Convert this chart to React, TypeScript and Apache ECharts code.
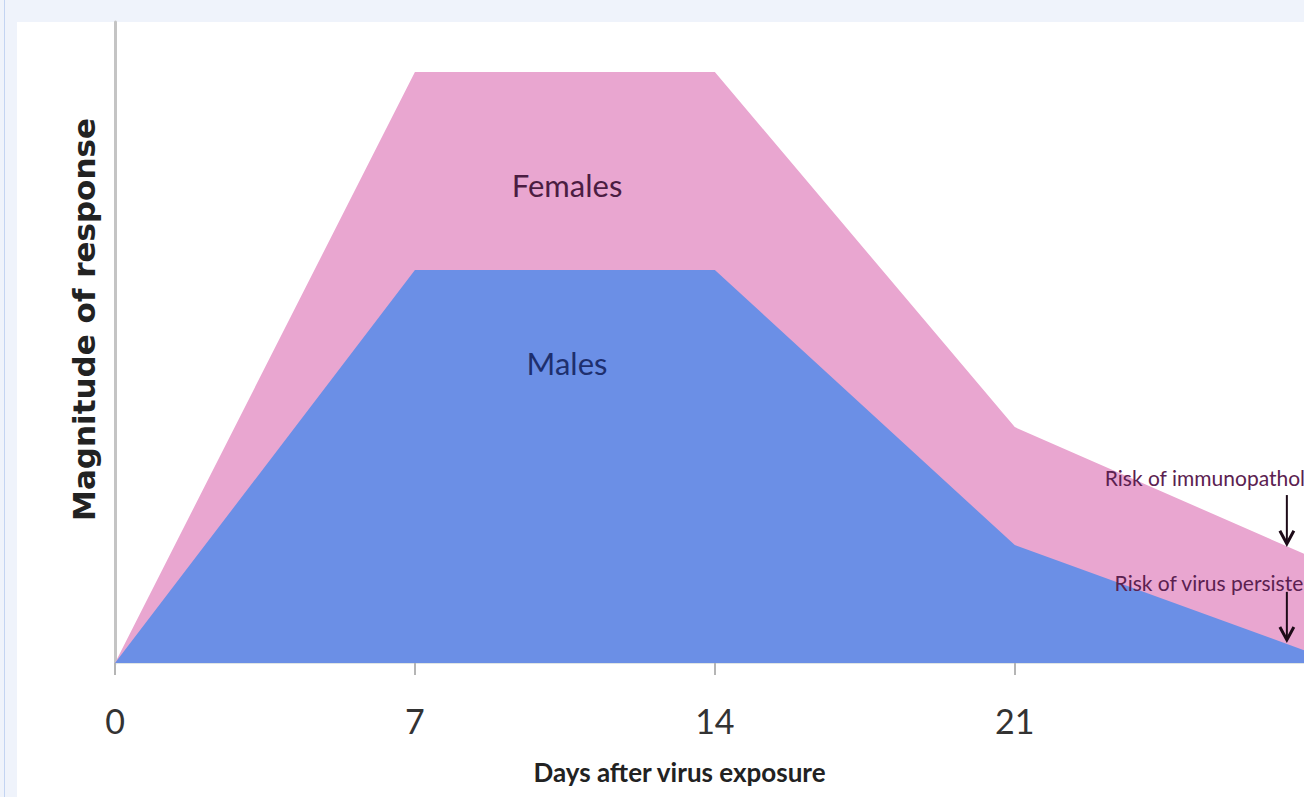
import React, { useEffect, useRef } from "react";
import * as echarts from "echarts";

// Days after exposure and response magnitude (arbitrary units)
const days = [0, 7, 14, 21, 28];
const females = [0, 92.2, 92.2, 36.8, 16.3];
const males = [0, 61.3, 61.3, 18.4, 1.4];
const xTicks = [0, 7, 14, 21];
const visibleDays = 27.75; // the reference image is cropped just before day 28

const femaleLabel = { text: "Females", day: 10.55, value: 74.6 };
const maleLabel = { text: "Males", day: 10.55, value: 46.8 };
const riskImmuno = { text: "Risk of immunopathology", day: 23.1, value: 28.9, arrowDay: 27.35, arrowTop: 26.2, arrowTip: 18.6 };
const riskVirus = { text: "Risk of virus persistence", day: 23.33, value: 12.6, arrowDay: 27.35, arrowTop: 11.1, arrowTip: 3.6 };

export default function App() {
  const ref = useRef<HTMLDivElement>(null);
  useEffect(() => {
    if (!ref.current) return;
    const chart = echarts.init(ref.current, null, { renderer: "svg" });
    const femData = days.map((d, i) => [d, females[i]]);
    const malData = days.map((d, i) => [d, males[i]]);
    chart.setOption({
      animation: false,
      grid: { left: 115, top: 22, right: 0, bottom: 134 },
      xAxis: {
        type: "value",
        min: 0,
        max: visibleDays,
        interval: 7,
        name: "Days after virus exposure",
        nameLocation: "middle",
        nameGap: 96,
        nameTextStyle: { fontFamily: "Lato", fontWeight: "bold", fontSize: 26, color: "#222", padding: [0, 60, 0, 0] },
        axisLine: { show: true, lineStyle: { color: "#dfe5e5", width: 1 } },
        axisTick: { show: true, length: 12, lineStyle: { color: "#b5b5b5", width: 2 } },
        splitLine: { show: false },
        axisLabel: {
          margin: 40,
          fontFamily: "Lato",
          fontSize: 34,
          color: "#333",
          showMaxLabel: false,
          formatter: (v: number) => (xTicks.includes(v) ? String(v) : ""),
        },
      },
      yAxis: {
        type: "value",
        min: 0,
        max: 100,
        name: "Magnitude of response",
        nameLocation: "middle",
        nameGap: 16,
        nameTextStyle: { fontFamily: "DejaVu Sans", fontWeight: "bold", fontSize: 31, color: "#222", padding: [0, 0, 0, 46] },
        axisLine: { show: true, lineStyle: { color: "#c4c4c4", width: 3 } },
        axisTick: { show: false },
        axisLabel: { show: false },
        splitLine: { show: false },
      },
      series: [
        {
          name: "Females",
          type: "line",
          data: femData,
          symbol: "none",
          lineStyle: { width: 0 },
          areaStyle: { color: "#e9a6d0", opacity: 1 },
          z: 2,
        },
        {
          name: "Males",
          type: "line",
          data: malData,
          symbol: "none",
          lineStyle: { width: 0 },
          areaStyle: { color: "#6b8fe6", opacity: 1 },
          z: 3,
        },
      ],
    });
    const px = (d: number, v: number) => chart.convertToPixel({ gridIndex: 0 }, [d, v]) as number[];
    const fp = px(femaleLabel.day, femaleLabel.value);
    const mp = px(maleLabel.day, maleLabel.value);
    const r1 = px(riskImmuno.day, riskImmuno.value);
    const r2 = px(riskVirus.day, riskVirus.value);
    const arrow = (r: typeof riskImmuno) => {
      const top = px(r.arrowDay, r.arrowTop);
      const tip = px(r.arrowDay, r.arrowTip);
      return [
        { type: "line", z: 10, shape: { x1: top[0], y1: top[1], x2: tip[0], y2: tip[1] - 2 }, style: { stroke: "#1d0b18", lineWidth: 2 } },
        {
          type: "polyline",
          z: 10,
          shape: { points: [[tip[0] - 7, tip[1] - 13], [tip[0], tip[1]], [tip[0] + 7, tip[1] - 13]] },
          style: { stroke: "#1d0b18", lineWidth: 3, fill: "none" },
        },
      ];
    };
    chart.setOption({
      graphic: [
        { type: "text", z: 10, x: fp[0], y: fp[1], style: { text: femaleLabel.text, fontFamily: "Lato", fontSize: 31, fill: "#4b1d42", align: "center", verticalAlign: "middle" } },
        { type: "text", z: 10, x: mp[0], y: mp[1], style: { text: maleLabel.text, fontFamily: "Lato", fontSize: 31, fill: "#1e2f6e", align: "center", verticalAlign: "middle" } },
        { type: "text", z: 10, x: r1[0], y: r1[1], style: { text: riskImmuno.text, fontFamily: "Lato", fontSize: 21, fill: "#5b2150", align: "left", verticalAlign: "middle" } },
        { type: "text", z: 10, x: r2[0], y: r2[1], style: { text: riskVirus.text, fontFamily: "Lato", fontSize: 21, fill: "#5b2150", align: "left", verticalAlign: "middle" } },
        ...arrow(riskImmuno),
        ...arrow(riskVirus),
      ],
    });
    return () => chart.dispose();
  }, []);
  return (
    <div style={{ position: "fixed", left: 0, top: 0, width: 1304, height: 797, background: "#eff3fb", overflow: "hidden" }}>
      <div style={{ position: "absolute", left: 4, top: 0, width: 1, height: 797, background: "#c3d4f2" }} />
      <div style={{ position: "absolute", left: 17, top: 22, right: 0, bottom: 0, background: "#ffffff" }} />
      <div ref={ref} style={{ position: "absolute", left: 0, top: 0, width: 1304, height: 797 }} />
    </div>
  );
}
